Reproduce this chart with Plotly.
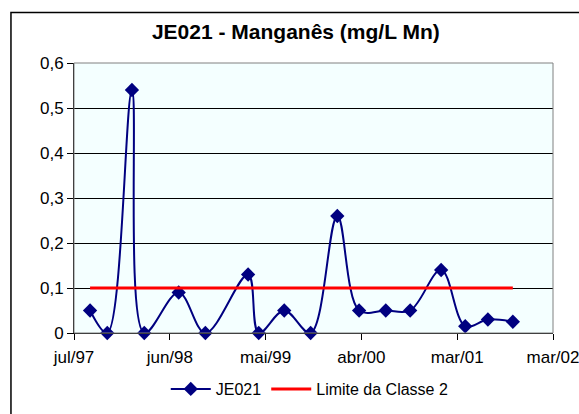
import plotly.graph_objects as go

# Sampling dates and manganese concentrations at station JE021 (mg/L Mn)
sample_dates = ["1997-09-09", "1997-11-08", "1998-02-02", "1998-03-17", "1998-07-15",
                "1998-10-16", "1999-03-14", "1999-04-20", "1999-07-18", "1999-10-18",
                "2000-01-19", "2000-04-04", "2000-07-06", "2000-09-29", "2001-01-15",
                "2001-04-09", "2001-06-27", "2001-09-22"]
manganese = [0.05, 0.0, 0.54, 0.0, 0.09, 0.0, 0.13, 0.0, 0.05, 0.0,
             0.26, 0.05, 0.05, 0.05, 0.14, 0.015, 0.03, 0.025]

# Class 2 limit, drawn across the sampled period
limit_dates = [sample_dates[0], sample_dates[-1]]
limit_values = [0.1, 0.1]

# Axis ticks
x_tick_dates = ["1997-07-15", "1998-06-14", "1999-05-14", "2000-04-12", "2001-03-12", "2002-02-09"]
x_tick_labels = ["jul/97", "jun/98", "mai/99", "abr/00", "mar/01", "mar/02"]
y_ticks = [0, 0.1, 0.2, 0.3, 0.4, 0.5, 0.6]

FONT = "Arial, Liberation Sans, sans-serif"

fig = go.Figure()
fig.add_trace(go.Scatter(
    x=sample_dates, y=manganese, name="JE021",
    mode="lines+markers",
    line=dict(color="#000080", width=2, shape="spline", smoothing=1),
    marker=dict(symbol="diamond", size=11, color="#000080"),
    cliponaxis=False,
))
fig.add_trace(go.Scatter(
    x=limit_dates, y=limit_values, name="Limite da Classe 2",
    mode="lines",
    line=dict(color="#FF0000", width=3),
))

fig.update_layout(
    width=579, height=414,
    margin=dict(l=74, r=26, t=63, b=81, autoexpand=False),
    paper_bgcolor="white",
    plot_bgcolor="#F4FFFF",
    separators=",.",
    font=dict(family=FONT, size=17, color="black"),
    title=dict(text="<b>JE021 - Manganês (mg/L Mn)</b>",
               font=dict(family=FONT, size=21, color="black"),
               x=0.511, xref="container", xanchor="center",
               y=0.923, yref="container", yanchor="middle"),
    showlegend=True,
    legend=dict(orientation="h", x=0.535, xref="container", xanchor="center",
                y=1 - 389 / 414, yref="container", yanchor="middle",
                font=dict(family=FONT, size=16, color="black"),
                itemwidth=40,
                bgcolor="rgba(0,0,0,0)", traceorder="normal"),
    xaxis=dict(type="date", range=[x_tick_dates[0], x_tick_dates[-1]],
               tickmode="array", tickvals=x_tick_dates, ticktext=x_tick_labels,
               showgrid=False, zeroline=False, automargin=False,
               showline=True, linecolor="black", linewidth=1, mirror=False,
               ticks="outside", ticklen=6, tickcolor="black",
               ticklabelstandoff=3, ticklabeloverflow="allow",
               tickfont=dict(size=17)),
    yaxis=dict(range=[0, 0.6], tickmode="array", tickvals=y_ticks,
               ticktext=["0"] + [f"{v:.1f}".replace(".", ",") for v in y_ticks[1:]],
               showgrid=True, gridcolor="black", gridwidth=1, zeroline=False,
               automargin=False,
               showline=True, linecolor="black", linewidth=1,
               ticks="outside", ticklen=6, tickcolor="black",
               tickfont=dict(size=17)),
)

# Plot-area frame (top and right edges) and the outer chart border
fig.add_shape(type="rect", xref="paper", yref="paper", x0=0, x1=1, y0=0, y1=1,
              line=dict(color="#808080", width=1), layer="above")
fig.add_shape(type="rect", xref="paper", yref="paper",
              x0=-0.1316, x1=1.2, y0=-0.5, y1=1.187,
              line=dict(color="black", width=1.5), layer="above")

fig.write_html("out.html")
